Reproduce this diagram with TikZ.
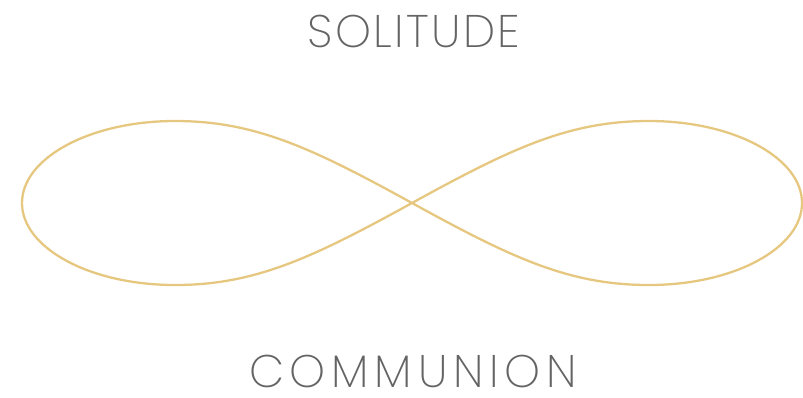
\documentclass[tikz,border=0pt]{standalone}
\usepackage{fontspec}
\setmainfont{Poppins}[UprightFont=* ExtraLight]
\usepackage{xcolor}
\usepackage{tikz}
\usetikzlibrary{positioning, calc}
\definecolor{loopgold}{HTML}{E6C780}
\definecolor{wordgray}{HTML}{646464}

\begin{document}
\begin{tikzpicture}[
    x=0.02cm, y=-0.02cm,
    word/.style={text=wordgray, anchor=base, inner sep=0pt, text depth=0pt},
    loop/.style={draw=loopgold, line width=1.3pt}
]
    \useasboundingbox (0,0) rectangle (803,397);

    % Crossing point and lobe extremes
    \coordinate (cross) at (412, 203);
    \coordinate (lefttop) at (175, 121);
    \coordinate (leftend) at (22, 203);
    \coordinate (leftbot) at (175, 285);
    \coordinate (righttop) at (649, 121);
    \coordinate (rightend) at (802, 203);
    \coordinate (rightbot) at (649, 285);

    % Infinity loop
    \draw[loop] (cross)
        .. controls (312, 148) and (255, 121) .. (lefttop)
        .. controls (90, 121) and (22, 158) .. (leftend)
        .. controls (22, 248) and (90, 285) .. (leftbot)
        .. controls (255, 285) and (312, 258) .. (cross)
        .. controls (512, 148) and (569, 121) .. (righttop)
        .. controls (734, 121) and (802, 158) .. (rightend)
        .. controls (802, 248) and (734, 285) .. (rightbot)
        .. controls (569, 285) and (512, 258) .. (cross);

    % Words
    \node[word, font=\addfontfeatures{LetterSpace=5}\fontsize{26}{28}\selectfont] (solitude) at (414, 47) {SOLITUDE};
    \node[word, font=\addfontfeatures{LetterSpace=12.5}\fontsize{26}{28}\selectfont] (communion) at (413, 387) {COMMUNION};
\end{tikzpicture}
\end{document}
